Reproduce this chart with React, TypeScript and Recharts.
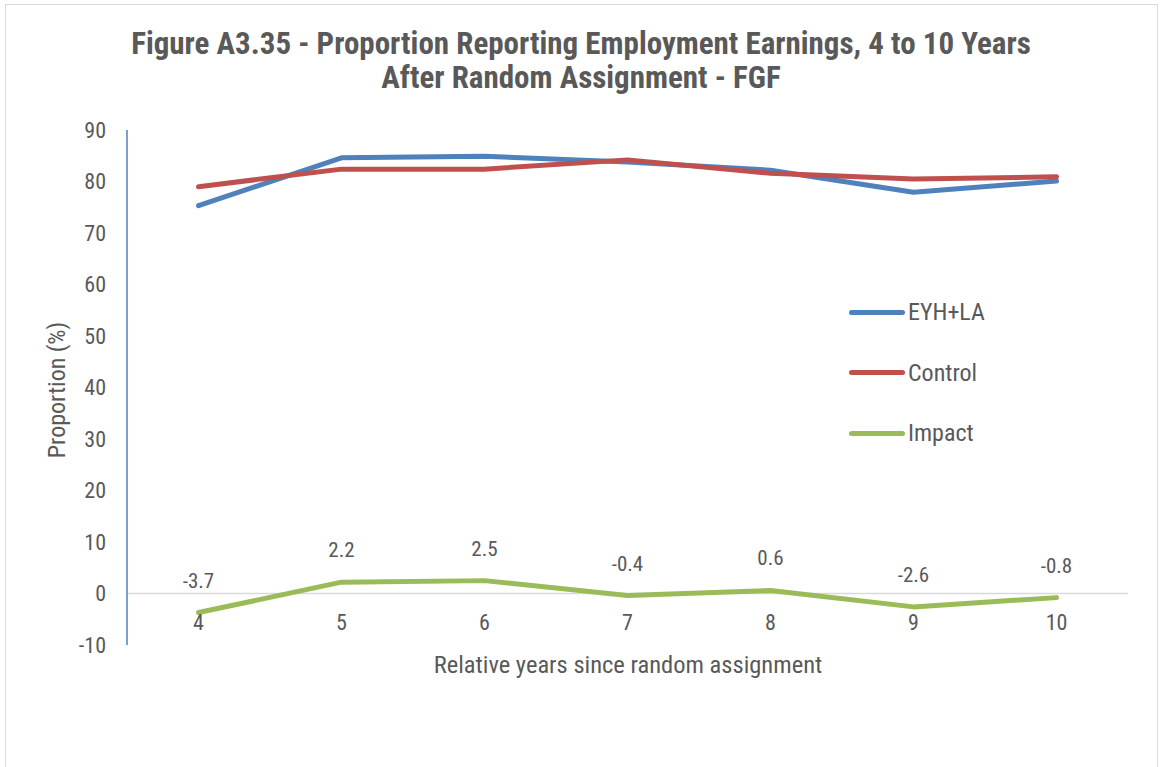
import React from 'react';
import { LineChart, Line, XAxis, YAxis, ReferenceLine, LabelList, Legend } from 'recharts';

const years = [4, 5, 6, 7, 8, 9, 10];
const eyhLa = [75.3, 84.6, 84.9, 83.8, 82.2, 77.9, 80.1];
const control = [79.0, 82.4, 82.4, 84.2, 81.6, 80.5, 80.9];
const impact = [-3.7, 2.2, 2.5, -0.4, 0.6, -2.6, -0.8];
const yTicks = [-10, 0, 10, 20, 30, 40, 50, 60, 70, 80, 90];

const data = years.map((y, i) => ({ year: y, eyh: eyhLa[i], control: control[i], impact: impact[i] }));

const FONT = '"Liberation Sans Narrow", "Arial Narrow", "Roboto Condensed", Roboto, sans-serif';
const TEXT = '#595959';

const series = [
  { key: 'eyh', name: 'EYH+LA', color: '#4F81BD' },
  { key: 'control', name: 'Control', color: '#C0504D' },
  { key: 'impact', name: 'Impact', color: '#9BBB59' },
];

const XTick = (props: any) => {
  const { x, payload } = props;
  return (
    <text x={x} y={630} textAnchor="middle" fill={TEXT} fontSize={22} fontFamily={FONT}>
      {payload.value}
    </text>
  );
};

const LegendContent = () => (
  <div style={{ position: 'relative', width: 0, height: 0, fontFamily: FONT }}>
    {series.map((s, i) => (
      <div key={s.key} style={{ position: 'absolute', left: 0, top: i * 60.5 - 14, height: 28, display: 'flex', alignItems: 'center', whiteSpace: 'nowrap' }}>
        <div style={{ width: 56, height: 5, borderRadius: 3, background: s.color }} />
        <span style={{ marginLeft: 3, fontSize: 24, color: TEXT }}>{s.name}</span>
      </div>
    ))}
  </div>
);

export default function App() {
  return (
    <div style={{ position: 'relative', width: 1160, height: 767, background: '#fff', fontFamily: FONT, overflow: 'hidden' }}>
      <style>{`body{margin:0}`}</style>
      <div style={{ position: 'absolute', left: 5, top: 4, width: 1153, height: 780, border: '1px solid #D9D9D9', boxSizing: 'border-box' }} />
      <div style={{ position: 'absolute', left: 0, top: 27, width: 1162, textAlign: 'center', fontSize: 31, fontWeight: 'bold', color: TEXT, lineHeight: '34px' }}>
        Figure A3.35 - Proportion Reporting Employment Earnings, 4 to 10 Years<br />After Random Assignment - FGF
      </div>
      <div style={{ position: 'absolute', left: 0, top: 650, width: 1256, textAlign: 'center', fontSize: 24.5, color: TEXT }}>
        Relative years since random assignment
      </div>
      <div style={{ position: 'absolute', left: 57, top: 390, transform: 'translate(-50%, -50%) rotate(-90deg)', fontSize: 24, color: TEXT, whiteSpace: 'nowrap' }}>
        Proportion (%)
      </div>
      <div style={{ position: 'absolute', left: 0, top: 0 }}>
        <LineChart width={1160} height={767} data={data} margin={{ top: 130, right: 32, bottom: 0, left: 0 }}>
          <XAxis dataKey="year" type="number" domain={[3.5, 10.5]} ticks={years} axisLine={false} tickLine={false} height={122} tick={<XTick />} interval={0} />
          <YAxis type="number" domain={[-10, 90]} ticks={yTicks} width={127} axisLine={{ stroke: '#4F81BD', strokeWidth: 1.5 }} tickLine={false} tickSize={0} tickMargin={21}
            tick={{ fill: TEXT, fontSize: 22, fontFamily: FONT }} interval={0} />
          <ReferenceLine y={0} stroke="#D9D9D9" strokeWidth={1.5} />
          {series.map((s) => (
            <Line key={s.key} dataKey={s.key} name={s.name} type="linear" stroke={s.color} strokeWidth={5} dot={false} activeDot={false} isAnimationActive={false} strokeLinecap="round" strokeLinejoin="round">
              {s.key === 'impact' && (
                <LabelList dataKey="impact" position="top" offset={25} fill={TEXT} fontSize={21} fontFamily={FONT} />
              )}
            </Line>
          ))}
          <Legend content={<LegendContent />} wrapperStyle={{ position: 'absolute', left: 849, top: 312, width: 0, height: 0, overflow: 'visible' }} />
        </LineChart>
      </div>
    </div>
  );
}
